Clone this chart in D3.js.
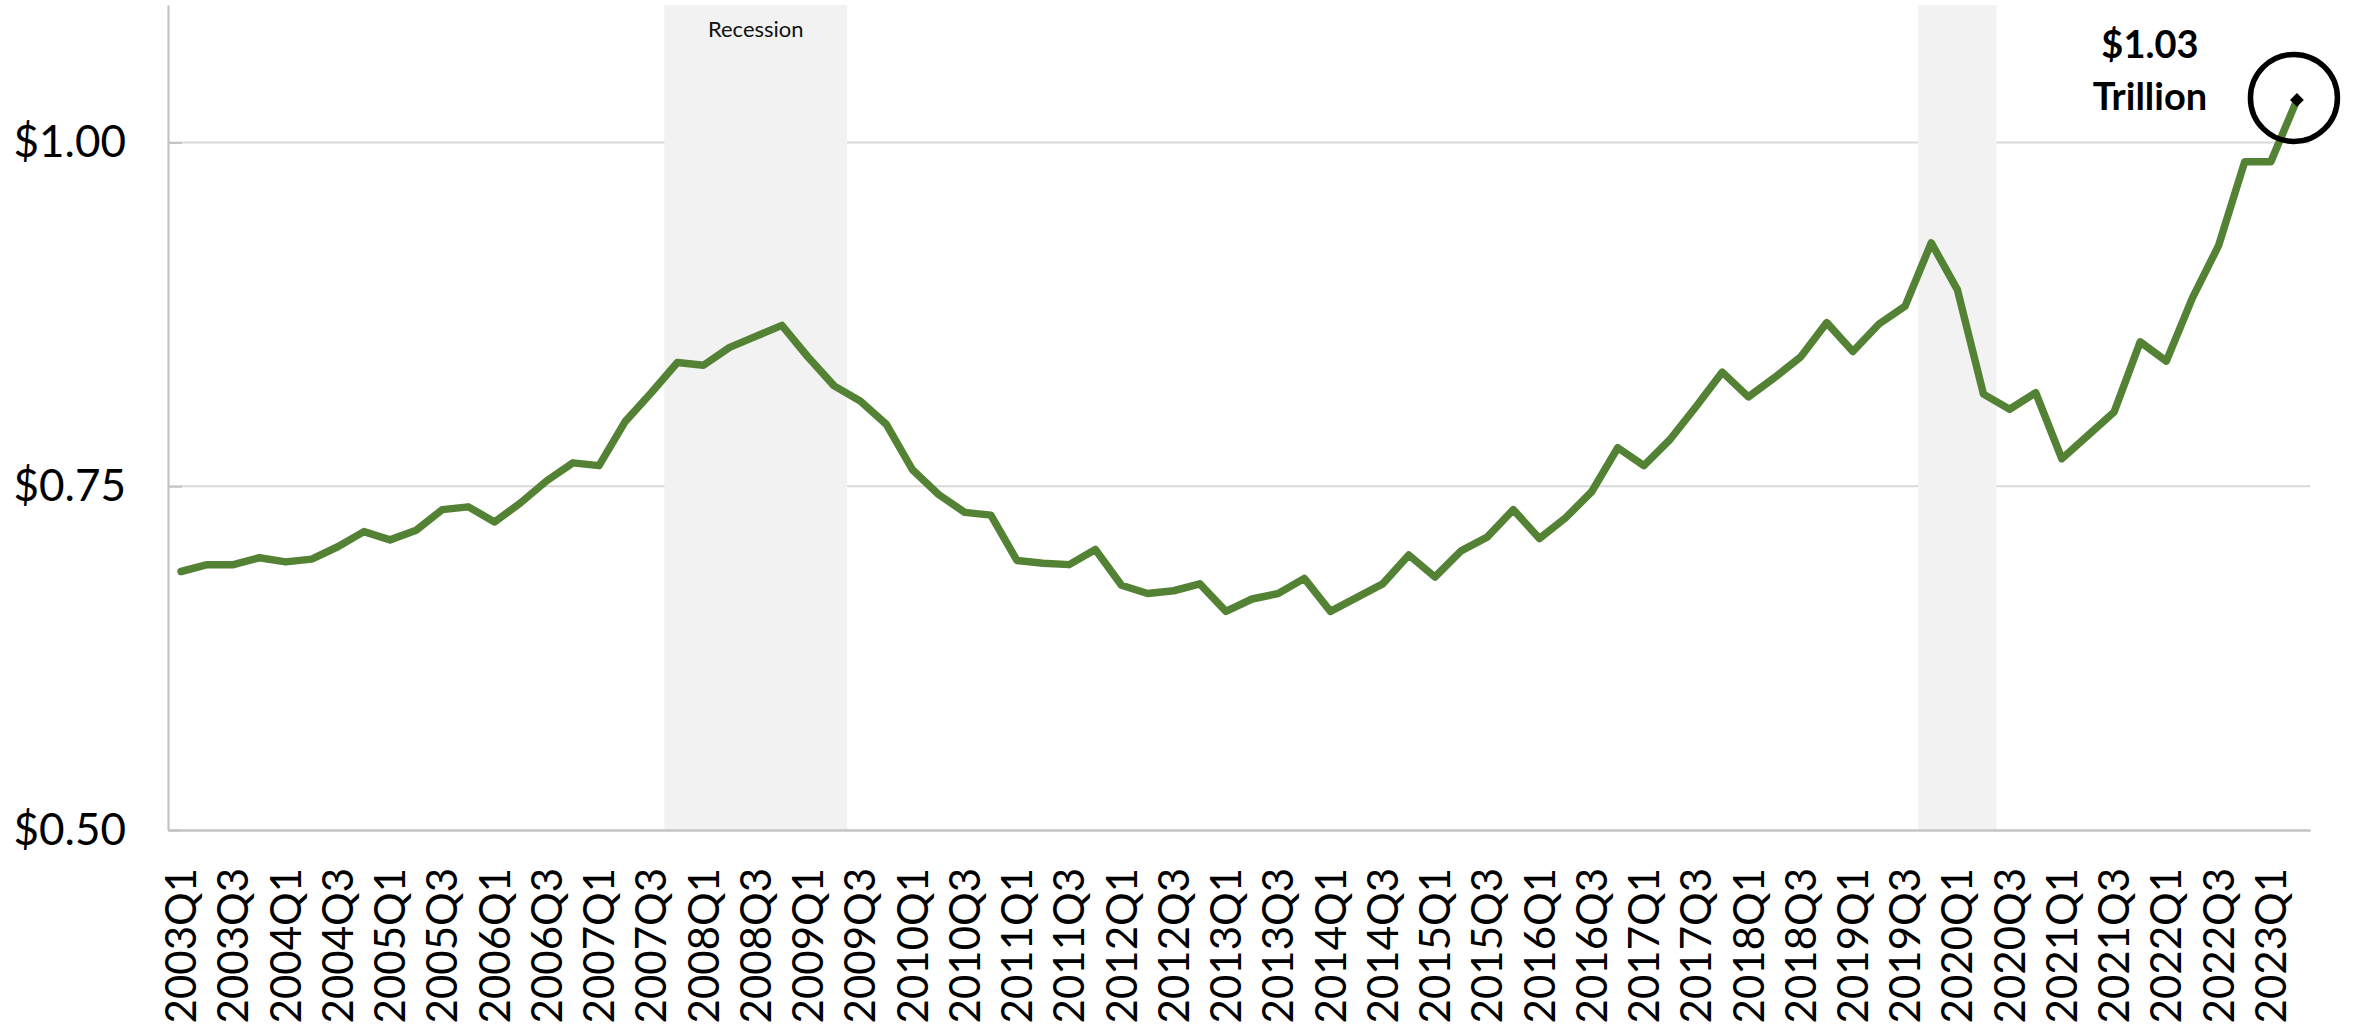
<!DOCTYPE html>
<html>
<head>
<meta charset="utf-8">
<script src="https://cdnjs.cloudflare.com/ajax/libs/d3/7.8.5/d3.min.js"></script>
<style>
  body { margin: 0; background: #fff; }
  text { font-family: Lato, "Open Sans", sans-serif; }
</style>
</head>
<body>
<div id="chart"></div>
<script>
var quarters = [
    "2003Q1", "2003Q2", "2003Q3", "2003Q4", "2004Q1", "2004Q2", "2004Q3", "2004Q4",
    "2005Q1", "2005Q2", "2005Q3", "2005Q4", "2006Q1", "2006Q2", "2006Q3", "2006Q4",
    "2007Q1", "2007Q2", "2007Q3", "2007Q4", "2008Q1", "2008Q2", "2008Q3", "2008Q4",
    "2009Q1", "2009Q2", "2009Q3", "2009Q4", "2010Q1", "2010Q2", "2010Q3", "2010Q4",
    "2011Q1", "2011Q2", "2011Q3", "2011Q4", "2012Q1", "2012Q2", "2012Q3", "2012Q4",
    "2013Q1", "2013Q2", "2013Q3", "2013Q4", "2014Q1", "2014Q2", "2014Q3", "2014Q4",
    "2015Q1", "2015Q2", "2015Q3", "2015Q4", "2016Q1", "2016Q2", "2016Q3", "2016Q4",
    "2017Q1", "2017Q2", "2017Q3", "2017Q4", "2018Q1", "2018Q2", "2018Q3", "2018Q4",
    "2019Q1", "2019Q2", "2019Q3", "2019Q4", "2020Q1", "2020Q2", "2020Q3", "2020Q4",
    "2021Q1", "2021Q2", "2021Q3", "2021Q4", "2022Q1", "2022Q2", "2022Q3", "2022Q4",
    "2023Q1", "2023Q2"
];

// credit card balances, trillions of dollars
var balances = [
    0.688, 0.693, 0.693, 0.698, 0.695, 0.697, 0.706, 0.717,
    0.711, 0.718, 0.733, 0.735, 0.724, 0.738, 0.754, 0.767,
    0.765, 0.797, 0.818, 0.840, 0.838, 0.851, 0.859, 0.867,
    0.844, 0.823, 0.812, 0.795, 0.762, 0.744, 0.731, 0.729,
    0.696, 0.694, 0.693, 0.704, 0.678, 0.672, 0.674, 0.679,
    0.659, 0.668, 0.672, 0.683, 0.659, 0.669, 0.679, 0.700,
    0.684, 0.703, 0.713, 0.733, 0.712, 0.727, 0.746, 0.778,
    0.765, 0.784, 0.808, 0.833, 0.815, 0.829, 0.844, 0.869,
    0.848, 0.868, 0.881, 0.927, 0.893, 0.817, 0.806, 0.818,
    0.770, 0.787, 0.804, 0.855, 0.841, 0.887, 0.925, 0.986,
    0.986, 1.031
];

var yTicks = [0.50, 0.75, 1.00];

// first and last shaded quarter
var recessions = [
    { from: "2007Q4", to: "2009Q2", label: "Recession" },
    { from: "2019Q4", to: "2020Q2", label: "" }
];

var calloutLines = ["$1.03", "Trillion"];

var W = 2354, H = 1030;
var plotLeft = 168, plotRight = 2310, plotTop = 5, plotBottom = 830;

var data = quarters.map(function (q, i) { return { q: q, v: balances[i] }; });

var svg = d3.select("#chart")
    .append("svg")
    .attr("width", W)
    .attr("height", H);

var x = d3.scaleBand()
    .domain(quarters)
    .range([plotLeft, plotRight])
    .padding(0);

var y = d3.scaleLinear()
    .domain([0.5, 1.1])
    .range([plotBottom, plotTop]);

var cx = function (q) { return x(q) + x.bandwidth() / 2; };

// gridlines
svg.append("g")
    .selectAll("line")
    .data(yTicks.slice(1))
    .enter()
    .append("line")
    .attr("x1", plotLeft)
    .attr("x2", plotRight)
    .attr("y1", function (d) { return y(d); })
    .attr("y2", function (d) { return y(d); })
    .attr("stroke", "#d9d9d9")
    .attr("stroke-width", 1.8);

// recession shading
svg.append("g")
    .selectAll("rect")
    .data(recessions)
    .enter()
    .append("rect")
    .attr("x", function (d) { return x(d.from); })
    .attr("width", function (d) { return x(d.to) + x.bandwidth() - x(d.from); })
    .attr("y", plotTop)
    .attr("height", plotBottom - plotTop)
    .attr("fill", "#f2f2f2");

svg.append("g")
    .selectAll("text")
    .data(recessions)
    .enter()
    .append("text")
    .attr("x", function (d) { return (x(d.from) + x(d.to) + x.bandwidth()) / 2; })
    .attr("y", plotTop + 32)
    .attr("text-anchor", "middle")
    .style("font-size", "22px")
    .attr("fill", "#111")
    .text(function (d) { return d.label; });

// y axis
var yAxis = svg.append("g")
    .attr("transform", "translate(" + plotLeft + ",0)")
    .call(d3.axisLeft(y)
        .tickValues(yTicks)
        .tickFormat(d3.format("$.2f"))
        .tickSizeInner(-14)
        .tickSizeOuter(0)
        .tickPadding(42));

yAxis.select(".domain").attr("stroke", "#c4c4c4").attr("stroke-width", 2.2);
yAxis.selectAll(".tick line").attr("stroke", "#c4c4c4").attr("stroke-width", 2);
yAxis.selectAll(".tick text")
    .style("font-size", "44px")
    .attr("fill", "#000");

// x axis
var xAxis = svg.append("g")
    .attr("transform", "translate(0," + plotBottom + ")")
    .call(d3.axisBottom(x)
        .tickValues(quarters.filter(function (q) { return /Q[13]$/.test(q); }))
        .tickSize(0)
        .tickSizeOuter(0));

xAxis.select(".domain").attr("stroke", "#c4c4c4").attr("stroke-width", 2.6);
xAxis.selectAll(".tick text")
    .attr("transform", "rotate(-90)")
    .attr("x", -38)
    .attr("y", 0)
    .attr("dy", "0.36em")
    .attr("text-anchor", "end")
    .style("font-size", "42px")
    .attr("fill", "#000");

// the series
var line = d3.line()
    .x(function (d) { return cx(d.q); })
    .y(function (d) { return y(d.v); });

svg.append("path")
    .datum(data)
    .attr("fill", "none")
    .attr("stroke", "#548235")
    .attr("stroke-width", 7.5)
    .attr("stroke-linejoin", "round")
    .attr("stroke-linecap", "round")
    .attr("d", line);

// last point callout
var last = data[data.length - 1];
var lx = cx(last.q), ly = y(last.v);

svg.append("path")
    .attr("d", d3.symbol().type(d3.symbolSquare).size(95)())
    .attr("transform", "translate(" + lx + "," + ly + ") rotate(45)")
    .attr("fill", "#000");

svg.append("circle")
    .attr("cx", lx - 3)
    .attr("cy", ly - 2)
    .attr("r", 43.5)
    .attr("fill", "none")
    .attr("stroke", "#000")
    .attr("stroke-width", 5.5);

svg.append("g")
    .selectAll("text")
    .data(calloutLines)
    .enter()
    .append("text")
    .attr("x", lx - 147)
    .attr("y", function (d, i) { return 58 + i * 52; })
    .attr("text-anchor", "middle")
    .attr("font-weight", "bold")
    .style("font-size", "38px")
    .attr("fill", "#000")
    .text(function (d) { return d; });
</script>
</body>
</html>
